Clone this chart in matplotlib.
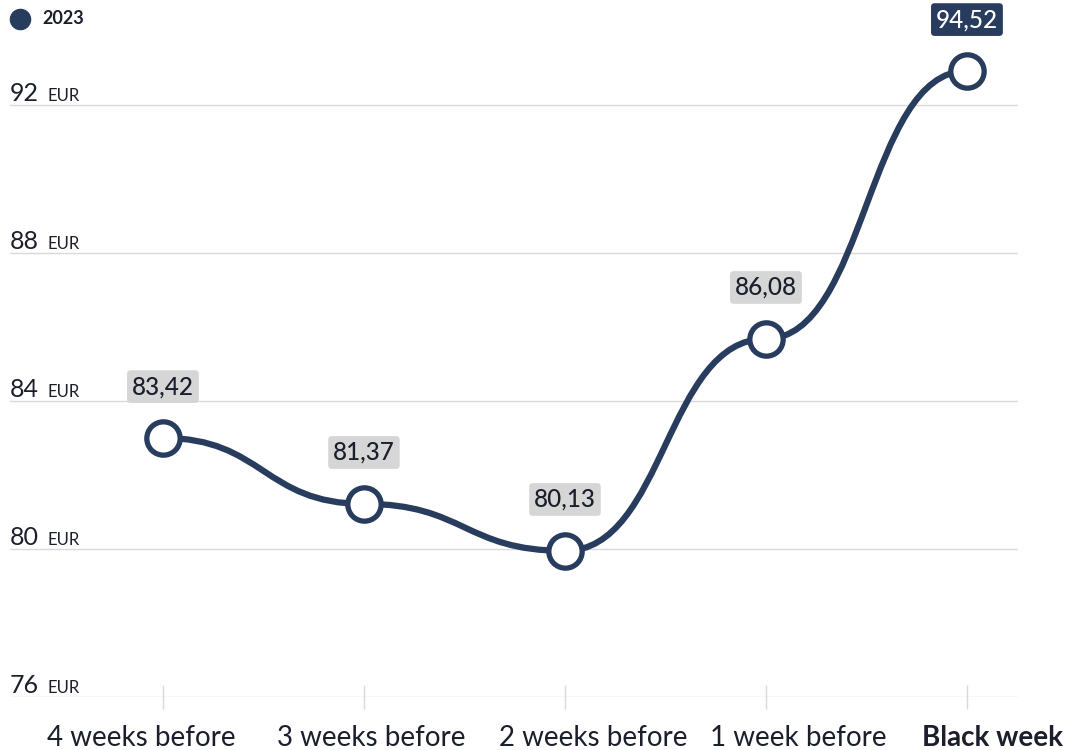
import matplotlib.pyplot as plt
from matplotlib.path import Path
from matplotlib.patches import PathPatch

# data
categories = ['4 weeks before', '3 weeks before', '2 weeks before', '1 week before', 'Black week']
values = [83.0, 81.22, 79.95, 85.68, 92.92]
value_labels = ['83,42', '81,37', '80,13', '86,08', '94,52']
y_ticks = [76, 80, 84, 88, 92]
series_name = '2023'

# horizontal nudge of each category label (points), the labels are not centred on the ticks
label_shift = [-15.5, 5.4, 20.5, 23.0, 18.5]

navy = '#283c5e'
grid_col = '#d9d9d9'
box_col = '#d6d6d6'
txt_col = '#1a1f2b'

plt.rcParams['font.family'] = ['Lato', 'DejaVu Sans']

fig = plt.figure(figsize=(10.68, 7.5), dpi=100)
ax = fig.add_axes([10 / 1068, 53 / 750, 1008 / 1068, 666 / 750])
ax.set_xlim(-0.761, 4.254)
ax.set_ylim(76, 94)

for s in ax.spines.values():
    s.set_visible(False)

# grid lines
ax.set_yticks(y_ticks)
ax.yaxis.grid(True, color=grid_col, lw=1)
ax.set_axisbelow(True)
ax.tick_params(axis='y', length=0, labelleft=False)

for t in y_ticks:
    ax.annotate(str(t), xy=(0, t), xycoords=('axes fraction', 'data'), xytext=(0, 3),
                textcoords='offset points', ha='left', va='baseline', fontsize=18, color=txt_col)
    ax.annotate('EUR', xy=(0, t), xycoords=('axes fraction', 'data'), xytext=(27, 3),
                textcoords='offset points', ha='left', va='baseline', fontsize=12, color=txt_col)

# x axis
x = list(range(len(categories)))
ax.set_xticks(x)
ax.tick_params(axis='x', direction='inout', length=17, width=1, color=grid_col, labelbottom=False)
for i, cat in enumerate(categories):
    ax.annotate(cat, xy=(i, 76), xytext=(label_shift[i], -35.3), textcoords='offset points',
                ha='center', va='baseline', fontsize=20, color=txt_col,
                fontweight='bold' if i == len(categories) - 1 else 'normal', annotation_clip=False)

# smooth curve (bump style: horizontal tangents at each point)
verts = [(x[0], values[0])]
codes = [Path.MOVETO]
for i in range(len(x) - 1):
    xm = (x[i] + x[i + 1]) / 2
    verts += [(xm, values[i]), (xm, values[i + 1]), (x[i + 1], values[i + 1])]
    codes += [Path.CURVE4] * 3
ax.add_patch(PathPatch(Path(verts, codes), fc='none', ec=navy, lw=4.5, capstyle='round', zorder=3))

ax.plot(x, values, 'o', ms=24, mfc='white', mec=navy, mew=3.8, zorder=4)

# value boxes
for i, (v, lab) in enumerate(zip(values, value_labels)):
    last = i == len(values) - 1
    ax.annotate(lab, xy=(i, v), xytext=(0, 37), textcoords='offset points', ha='center', va='center',
                fontsize=17.5, fontweight='medium', color='white' if last else txt_col, zorder=5,
                bbox=dict(boxstyle='round,pad=0.2,rounding_size=0.15', fc=navy if last else box_col, ec='none'))

# legend
fig.lines.append(plt.Line2D([20 / 1068], [1 - 19 / 750], marker='o', ms=14.5, color=navy,
                            transform=fig.transFigure))
fig.text(42 / 1068, 1 - 19 / 750, series_name, fontsize=13, fontweight='bold', color=txt_col, va='center')

fig.savefig('out.png', dpi=100)
